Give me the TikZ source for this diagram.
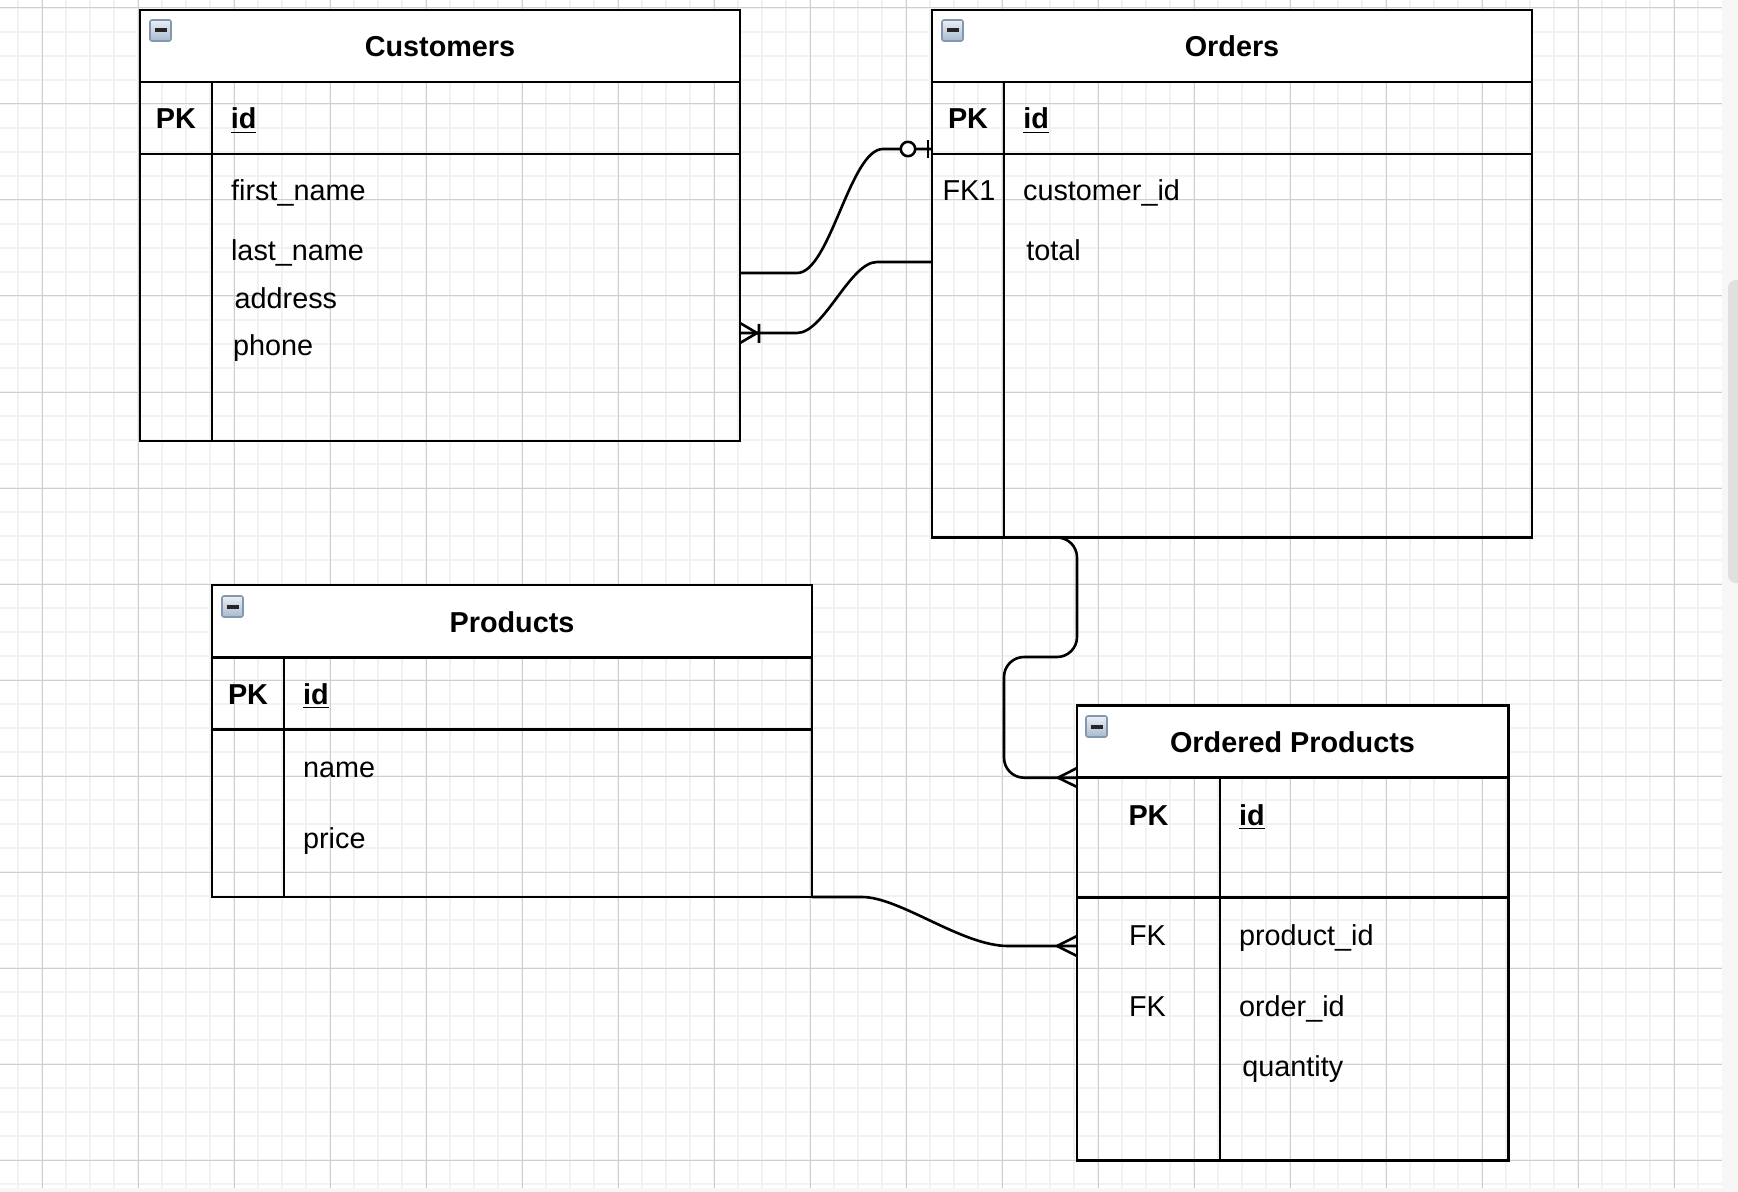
\documentclass[tikz,border=0pt]{standalone}
\usepackage{fontspec}
\setmainfont{Liberation Sans}
\definecolor{iconbd}{HTML}{8398AF}
\definecolor{icontop}{HTML}{E9EFF6}
\definecolor{iconbot}{HTML}{A9BACE}

\begin{document}
\begin{tikzpicture}[x=0.5pt,y=-0.5pt,
	tbl/.style={draw,line width=1.4pt,inner sep=0pt,outer sep=0pt,anchor=north west},
	ln/.style={line width=1.4pt},
	hd/.style={font=\bfseries\fontsize{14.4}{17}\selectfont,inner sep=0pt,anchor=base},
	key/.style={font=\fontsize{14.4}{17}\selectfont,inner sep=0pt,anchor=base},
	fld/.style={font=\fontsize{14.4}{17}\selectfont,inner sep=0pt,anchor=base west},
	idn/.style={font=\bfseries\fontsize{14.4}{17}\selectfont,inner sep=0pt,anchor=base west},
	rel/.style={line width=1.3pt,line join=round},
	minor/.style={draw=black!5,line width=0.9pt},
	major/.style={draw=black!19,line width=0.5pt}]
				\useasboundingbox (0,0) rectangle (1738,1192);
				% canvas and grid
				\fill[black!3] (0,0) rectangle (1738,1192);
				\fill[white] (0,0) rectangle (1722,1188);
				\foreach \x in {18,42,...,1712} \draw[minor] (\x,0) -- (\x,1188);
				\foreach \y in {8,32,...,1186} \draw[minor] (0,\y) -- (1722,\y);
				\foreach \x in {42,138,...,1712} \draw[major] (\x,0) -- (\x,1188);
				\foreach \y in {8,104,...,1186} \draw[major] (0,\y) -- (1722,\y);
				\fill[black!12,rounded corners=4pt] (1728,280) rectangle (1752,583);
				% header fills
				\fill[white] (140,10) rectangle (740,82);
				\fill[white] (932,10) rectangle (1532,82);
				\fill[white] (212,585) rectangle (812,657.3);
				\fill[white] (1077,705.5) rectangle (1508.5,777.7);
				% tables
				\node[tbl,minimum width=300pt,minimum height=215.5pt] (cust) at (140,10) {};
				\draw[ln] (140,82) -- (740,82) (140,154) -- (740,154) (212,82) -- (212,441);
				\node[tbl,minimum width=300pt,minimum height=263.75pt] (ord) at (932,10) {};
				\draw[ln] (932,82) -- (1532,82) (932,154) -- (1532,154) (1004,82) -- (1004,537.5);
				\node[tbl,minimum width=300pt,minimum height=156pt] (prod) at (212,585) {};
				\draw[ln] (212,657.3) -- (812,657.3) (212,729.3) -- (812,729.3) (284,657.3) -- (284,897);
				\node[tbl,minimum width=215.75pt,minimum height=227.5pt] (ordp) at (1077,705.5) {};
				\draw[ln] (1077,777.7) -- (1508.5,777.7) (1077,897.7) -- (1508.5,897.7) (1220,777.7) -- (1220,1160.5);
				% collapse icons
				\foreach \ix/\iy in {150/20,942/20,222/596,1086/716}{
					\draw[iconbd,top color=icontop,bottom color=iconbot,rounded corners=1pt,line width=0.8pt] (\ix,\iy) rectangle ++(21,21);
					\draw[black!85,line width=2pt] (\ix+4.5,\iy+10.5) -- ++(12,0);
				}
				% Customers
				\node[hd] (cust-t) at (440,57) {Customers};
				\node[hd] (cust-pk) at (176,129) {PK};
				\node[idn] (cust-id) at (230.5,129) {\underline{id}};
				\node[fld] (cust-fn) at (230.7,200.5) {first\_name};
				\node[fld] (cust-ln) at (230.7,260.5) {last\_name};
				\node[fld] (cust-ad) at (234.3,308.5) {address};
				\node[fld] (cust-ph) at (232.7,355.5) {phone};
				% Orders
				\node[hd] (ord-t) at (1232,57) {Orders};
				\node[hd] (ord-pk) at (968,129) {PK};
				\node[idn] (ord-id) at (1023,129) {\underline{id}};
				\node[key] (ord-fk) at (969,200.5) {FK1};
				\node[fld] (ord-cid) at (1022.7,200.5) {customer\_id};
				\node[fld] (ord-tot) at (1026,260.5) {total};
				% Products
				\node[hd] (prod-t) at (512,632.3) {Products};
				\node[hd] (prod-pk) at (248,704) {PK};
				\node[idn] (prod-id) at (302.7,704) {\underline{id}};
				\node[fld] (prod-nm) at (302.7,777) {name};
				\node[fld] (prod-pr) at (302.7,848) {price};
				% Ordered Products
				\node[hd] (ordp-t) at (1292.5,752.7) {Ordered Products};
				\node[hd] (ordp-pk) at (1148.5,825) {PK};
				\node[idn] (ordp-id) at (1238.7,825) {\underline{id}};
				\node[key] (ordp-fk1) at (1147.5,945) {FK};
				\node[fld] (ordp-pid) at (1238.7,945) {product\_id};
				\node[key] (ordp-fk2) at (1147.5,1016.7) {FK};
				\node[fld] (ordp-oid) at (1238.7,1016.7) {order\_id};
				\node[fld] (ordp-qt) at (1242,1076.7) {quantity};
				% relations
				\draw[rel] (cust.east |- 0,273) -- (797,273) .. controls (830,273) and (850,149) .. (883,149) -- (ord.west |- 0,149);
				\draw[rel,fill=white] (908,149) circle[radius=3.6pt];
				\draw[rel] (928,140) -- (928,158);
				\draw[rel] (ord.west |- 0,262) -- (877,262) .. controls (850,262) and (824,333) .. (797,333) -- (cust.east |- 0,333);
				\draw[rel] (740,323) -- (757,333) -- (740,343) (759,324) -- (759,343);
				\draw[rel,rounded corners=10pt] (1040,0 |- ord.south) -- (1077,537.5) -- (1077,657) -- (1004,657) -- (1004,777.7) -- (ordp.west |- 0,777.7);
				\draw[rel] (1077,768) -- (1058,777.7) -- (1077,787);
				\draw[rel] (prod.south east) -- (862,897) .. controls (900,897) and (962,946) .. (1008,946) -- (ordp.west |- 0,946);
				\draw[rel] (1077,936) -- (1057,946) -- (1077,956);
			\end{tikzpicture}
\end{document}
